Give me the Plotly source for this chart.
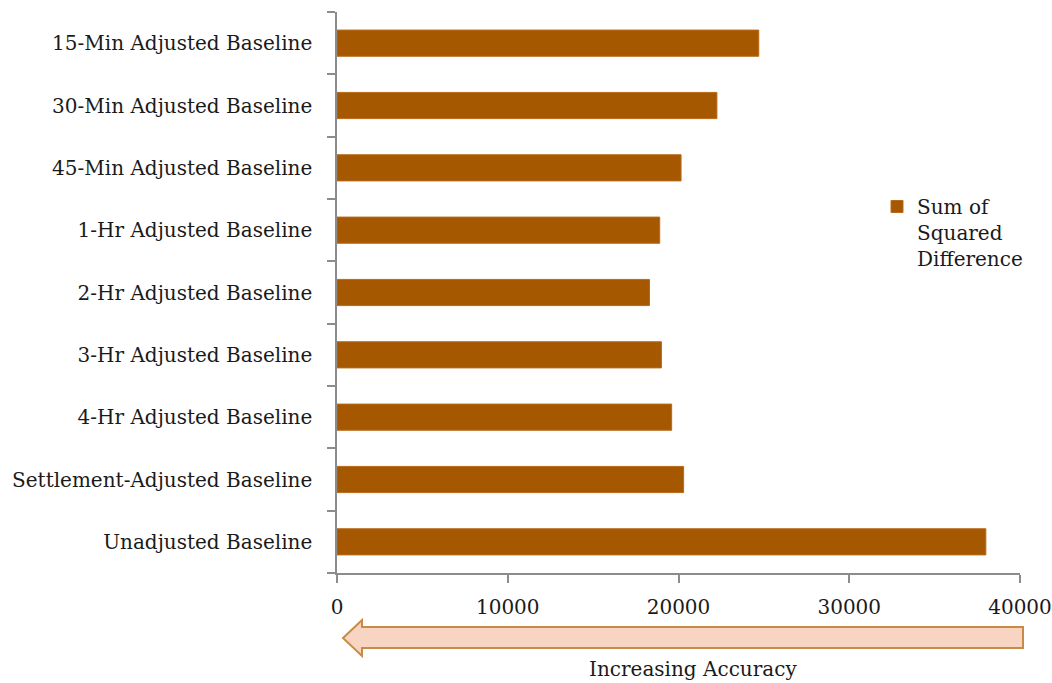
import plotly.graph_objects as go

# Baseline methods, listed bottom-to-top as they appear on the axis
methods = [
    "Unadjusted Baseline",
    "Settlement-Adjusted Baseline",
    "4-Hr Adjusted Baseline",
    "3-Hr Adjusted Baseline",
    "2-Hr Adjusted Baseline",
    "1-Hr Adjusted Baseline",
    "45-Min Adjusted Baseline",
    "30-Min Adjusted Baseline",
    "15-Min Adjusted Baseline",
]
sum_sq_diff = [38000, 20300, 19600, 19000, 18300, 18900, 20150, 22250, 24700]

x_ticks = [0, 10000, 20000, 30000, 40000]

W, H = 1052, 683
ML, MR, MT, MB = 337, 32, 12, 110
FONT = "DejaVu Serif"
FS = 20
TEXT = "#1a1a1a"
AXIS = "#8c8c8c"

# helpers to place decorations in paper coordinates from pixel positions
pw, ph = W - ML - MR, H - MT - MB
def px(x):
    return (x - ML) / pw
def py(y):
    return (H - MB - y) / ph

fig = go.Figure()
fig.add_trace(go.Bar(
    y=methods,
    x=sum_sq_diff,
    orientation="h",
    name="Sum of<br>Squared<br>Difference",
    width=0.42,
    marker=dict(color="#A65800", line=dict(color="#B86A1A", width=1)),
    showlegend=True,
))

# "Increasing Accuracy" arrow pointing left
tip_x, head_x, end_x = 343, 362, 1023
mid_y, head_top, head_bot = 638, 620, 656
shaft_top, shaft_bot = 627, 648
pts = [
    (tip_x, mid_y), (head_x, head_top), (head_x, shaft_top), (end_x, shaft_top),
    (end_x, shaft_bot), (head_x, shaft_bot), (head_x, head_bot),
]
path = "M " + " L ".join(f"{px(a):.5f},{py(b):.5f}" for a, b in pts) + " Z"
fig.add_shape(type="path", xref="paper", yref="paper", path=path,
              fillcolor="#F8D4C2", line=dict(color="#C98A45", width=2),
              layer="above")

fig.add_annotation(text="Increasing Accuracy", xref="paper", yref="paper",
                   x=px(693), y=py(669), showarrow=False,
                   font=dict(family=FONT, size=FS, color=TEXT),
                   xanchor="center", yanchor="middle")

fig.update_layout(
    width=W, height=H,
    margin=dict(l=ML, r=MR, t=MT, b=MB, autoexpand=False),
    paper_bgcolor="white", plot_bgcolor="white",
    font=dict(family=FONT, size=FS, color=TEXT),
    bargap=0.58,
    legend=dict(
        x=px(877), y=py(187), xanchor="left", yanchor="top",
        valign="top", bgcolor="rgba(0,0,0,0)",
        font=dict(family=FONT, size=FS, color=TEXT),
        itemwidth=30, tracegroupgap=0,
    ),
    xaxis=dict(
        range=[0, 40000], tickvals=x_ticks, ticktext=[str(v) for v in x_ticks],
        showgrid=False, zeroline=False,
        showline=True, linecolor=AXIS, linewidth=1.5,
        ticks="outside", ticklen=8, tickcolor=AXIS, tickwidth=1.5,
        ticklabelstandoff=7,
    ),
    yaxis=dict(
        categoryorder="array", categoryarray=methods,
        showgrid=False, zeroline=False,
        showline=True, linecolor=AXIS, linewidth=1.5,
        ticks="outside", ticklen=8, tickcolor=AXIS, tickwidth=1.5,
        tickson="boundaries", ticklabelstandoff=19,
    ),
)

fig.write_html("out.html")
